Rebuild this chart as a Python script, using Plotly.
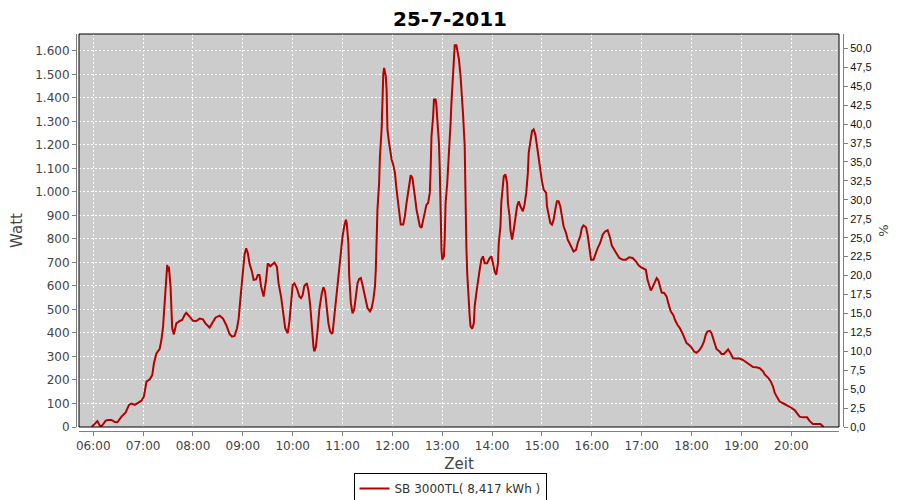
import plotly.graph_objects as go

DAY = "2011-07-25"
SERIES_NAME = "SB 3000TL( 8,417 kWh )"
TITLE = "25-7-2011"

times = [
    "05:58", "06:02", "06:05", "06:07", "06:09", "06:12", "06:15", "06:18", "06:22", "06:26",
    "06:29", "06:34", "06:39", "06:43", "06:46", "06:50", "06:54", "06:58", "07:01", "07:04",
    "07:08", "07:11", "07:13", "07:16", "07:20", "07:22", "07:24", "07:26", "07:28", "07:29",
    "07:30", "07:31", "07:33", "07:34", "07:35", "07:37", "07:40", "07:44", "07:47", "07:50",
    "07:52", "07:56", "08:00", "08:04", "08:08", "08:12", "08:15", "08:20", "08:24", "08:27",
    "08:32", "08:36", "08:40", "08:44", "08:47", "08:50", "08:53", "08:55", "08:57", "08:59",
    "09:01", "09:02", "09:04", "09:06", "09:08", "09:11", "09:13", "09:16", "09:18", "09:20",
    "09:22", "09:24", "09:25", "09:28", "09:30", "09:33", "09:35", "09:38", "09:41", "09:43",
    "09:46", "09:49", "09:51", "09:54", "09:56", "09:58", "10:00", "10:02", "10:05", "10:08",
    "10:10", "10:12", "10:14", "10:17", "10:19", "10:21", "10:23", "10:25", "10:26", "10:28",
    "10:30", "10:32", "10:35", "10:37", "10:39", "10:41", "10:43", "10:45", "10:47", "10:48",
    "10:50", "10:52", "10:54", "10:56", "10:58", "11:00", "11:02", "11:04", "11:05", "11:07",
    "11:08", "11:10", "11:12", "11:14", "11:16", "11:18", "11:20", "11:22", "11:24", "11:26",
    "11:28", "11:30", "11:33", "11:35", "11:37", "11:39", "11:40", "11:41", "11:42", "11:44",
    "11:45", "11:47", "11:48", "11:49", "11:50", "11:52", "11:53", "11:54", "11:56", "11:57",
    "11:59", "12:01", "12:03", "12:05", "12:07", "12:09", "12:10", "12:13", "12:15", "12:17",
    "12:19", "12:21", "12:22", "12:24", "12:25", "12:27", "12:29", "12:31", "12:33", "12:35",
    "12:37", "12:39", "12:41", "12:43", "12:45", "12:46", "12:47", "12:49", "12:50", "12:52",
    "12:53", "12:54", "12:56", "12:57", "12:58", "12:59", "13:00", "13:02", "13:03", "13:04",
    "13:06", "13:07", "13:09", "13:10", "13:11", "13:13", "13:14", "13:15", "13:17", "13:18",
    "13:20", "13:22", "13:24", "13:25", "13:27", "13:28", "13:29", "13:30", "13:31", "13:33",
    "13:34", "13:36", "13:38", "13:39", "13:41", "13:43", "13:45", "13:47", "13:49", "13:51",
    "13:54", "13:57", "13:59", "14:01", "14:03", "14:05", "14:07", "14:08", "14:10", "14:11",
    "14:13", "14:14", "14:16", "14:18", "14:19", "14:21", "14:22", "14:24", "14:26", "14:28",
    "14:30", "14:32", "14:34", "14:37", "14:39", "14:41", "14:43", "14:44", "14:46", "14:48",
    "14:50", "14:52", "14:54", "14:56", "14:58", "15:00", "15:02", "15:05", "15:06", "15:08",
    "15:10", "15:12", "15:14", "15:16", "15:18", "15:20", "15:22", "15:24", "15:26", "15:29",
    "15:31", "15:33", "15:36", "15:38", "15:41", "15:43", "15:46", "15:48", "15:50", "15:53",
    "15:55", "15:57", "15:59", "16:02", "16:04", "16:07", "16:10", "16:13", "16:16", "16:19",
    "16:22", "16:24", "16:27", "16:30", "16:33", "16:37", "16:41", "16:45", "16:49", "16:53",
    "16:56", "16:59", "17:02", "17:05", "17:07", "17:09", "17:11", "17:13", "17:16", "17:18",
    "17:20", "17:22", "17:24", "17:27", "17:30", "17:32", "17:35", "17:38", "17:40", "17:43",
    "17:46", "17:49", "17:52", "17:54", "17:57", "18:00", "18:03", "18:06", "18:09", "18:12",
    "18:15", "18:17", "18:19", "18:22", "18:24", "18:26", "18:28", "18:30", "18:34", "18:36",
    "18:39", "18:42", "18:44", "18:47", "18:50", "18:54", "18:58", "19:02", "19:06", "19:10",
    "19:14", "19:18", "19:22", "19:26", "19:28", "19:32", "19:35", "19:38", "19:40", "19:43",
    "19:46", "19:50", "19:53", "19:56", "20:00", "20:04", "20:07", "20:10", "20:14", "20:19",
    "20:22", "20:26", "20:35", "20:39",
]

watt = [
    0, 15, 25, 12, 0, 12, 27, 30, 30, 21,
    20, 44, 62, 94, 100, 94, 105, 112, 130, 193,
    203, 221, 271, 313, 333, 370, 427, 526, 647, 690,
    661, 682, 597, 470, 420, 394, 441, 451, 455, 477,
    486, 470, 452, 451, 461, 458, 441, 423, 444, 465,
    474, 462, 434, 396, 384, 387, 420, 462, 543, 611,
    682, 732, 760, 739, 696, 661, 626, 628, 647, 647,
    597, 562, 555, 626, 696, 684, 689, 700, 682, 611,
    555, 470, 420, 399, 448, 526, 604, 611, 590, 555,
    548, 562, 600, 612, 580, 520, 420, 342, 322, 342,
    413, 498, 569, 595, 575, 500, 441, 406, 398, 400,
    470, 540, 610, 670, 740, 811, 854, 882, 868, 783,
    641, 527, 484, 499, 555, 612, 630, 634, 605, 570,
    527, 506, 492, 506, 541, 598, 669, 783, 925, 1038,
    1152, 1266, 1443, 1500, 1528, 1493, 1436, 1266, 1209, 1180,
    1138, 1116, 1081, 1010, 953, 896, 861, 861, 896, 953,
    1010, 1052, 1071, 1060, 1024, 982, 925, 882, 854, 847,
    882, 925, 946, 953, 996, 1095, 1237, 1322, 1393, 1393,
    1365, 1308, 1209, 1095, 854, 754, 712, 726, 811, 953,
    1038, 1095, 1195, 1294, 1379, 1479, 1557, 1624, 1624, 1600,
    1565, 1493, 1393, 1330, 1195, 910, 768, 655, 570, 470,
    428, 418, 442, 513, 570, 626, 669, 712, 726, 697,
    697, 719, 726, 697, 662, 648, 697, 783, 854, 953,
    1038, 1067, 1074, 1038, 953, 896, 839, 797, 839, 896,
    939, 960, 939, 918, 946, 996, 1081, 1166, 1209, 1259,
    1266, 1244, 1195, 1138, 1095, 1045, 1010, 996, 939, 896,
    868, 861, 882, 925, 960, 960, 939, 896, 854, 825,
    797, 783, 761, 747, 754, 783, 811, 847, 858, 850,
    815, 768, 712, 712, 733, 761, 783, 818, 832, 837,
    804, 772, 754, 737, 719, 712, 712, 722, 719, 705,
    689, 680, 676, 669, 626, 598, 581, 594, 619, 633,
    624, 598, 572, 570, 555, 527, 491, 477, 456, 435,
    420, 399, 371, 357, 349, 338, 321, 316, 325, 340,
    364, 392, 406, 409, 399, 378, 349, 332, 320, 311,
    311, 325, 330, 313, 292, 291, 291, 285, 275, 267,
    255, 254, 250, 237, 224, 210, 196, 172, 146, 126,
    108, 101, 96, 89, 82, 72, 55, 44, 41, 41,
    26, 13, 13, 0,
]

x_range = [DAY + " 05:42:50", DAY + " 20:57:25"]
watt_range = [0, 1672]
pct_range = [0, 51.9]

x = [DAY + " " + t for t in times]

FONT = "DejaVu Sans"
GRAY = "#808080"
LABEL = "#444444"

fig = go.Figure()
fig.add_trace(go.Scatter(
    x=x, y=watt, mode="lines", name=SERIES_NAME,
    line=dict(color="#b50000", width=2),
))
fig.add_trace(go.Scatter(x=[None], y=[None], yaxis="y2", showlegend=False,
                         hoverinfo="skip", mode="lines"))

# the page body adds an 8px offset; lay out in screen pixels minus that offset
OFF = 8
W, H = 900 - OFF, 500 - OFF
ml = 76 - OFF          # left axis line at screen x=76
mt = 34 - OFF          # plot top at screen y=34
mr = W - (843 - OFF)   # right axis line at screen x=843
mb = H - (431 - OFF)   # bottom axis line at screen y=431
pw = W - ml - mr
ph = H - mt - mb

fig.update_layout(
    width=W, height=H,
    margin=dict(l=ml, r=mr, t=mt, b=mb, pad=0, autoexpand=False),
    paper_bgcolor="white",
    plot_bgcolor="#cccccc",
    separators=",.",
    font=dict(family=FONT, size=12, color=LABEL),
    title=dict(text=TITLE, x=(450 - OFF) / W, xanchor="center",
               y=1 - 4 / H, yanchor="top", pad=dict(t=0, b=0), automargin=False,
               font=dict(family=FONT, size=20, color="black", weight="bold")),
    xaxis=dict(
        type="date", range=x_range, domain=[3 / pw, (pw - 4) / pw],
        anchor="free", position=0, automargin=False,
        tickformat="%H:%M", dtick=3600000, tick0=DAY + " 06:00",
        showgrid=True, gridcolor="white", griddash="2px,2px", gridwidth=1,
        showline=True, linecolor=GRAY, linewidth=1,
        ticks="outside", ticklen=4, tickcolor=GRAY,
        tickfont=dict(family=FONT, size=12, color=LABEL),
        title=dict(text="Zeit", font=dict(family=FONT, size=15, color=LABEL), standoff=6),
        zeroline=False,
    ),
    yaxis=dict(
        range=watt_range, domain=[4 / ph, 1], anchor="free", position=0, automargin=False,
        dtick=100, tick0=0, tickformat=",d",
        showgrid=True, gridcolor="white", griddash="2px,2px", gridwidth=1,
        showline=True, linecolor=GRAY, linewidth=1,
        ticks="outside", ticklen=4, tickcolor=GRAY,
        tickfont=dict(family=FONT, size=12, color=LABEL),
        title=dict(text="Watt", font=dict(family=FONT, size=15, color=LABEL), standoff=8),
        zeroline=False,
    ),
    yaxis2=dict(
        range=pct_range, overlaying="y", side="right", anchor="free", position=1,
        automargin=False,
        dtick=2.5, tick0=0, tickformat=".1f",
        showgrid=False, zeroline=False,
        showline=True, linecolor=GRAY, linewidth=1,
        ticks="outside", ticklen=4, tickcolor=GRAY,
        tickfont=dict(family="Liberation Sans", size=11, color="#111111"),
        title=dict(text="%", font=dict(family=FONT, size=13, color=LABEL), standoff=8),
    ),
    showlegend=True,
    legend=dict(
        orientation="h", x=(450 - 76) / pw, xanchor="center",
        y=-(473 - 431) / ph, yanchor="top",
        bgcolor="white", bordercolor="black", borderwidth=1,
        font=dict(family=FONT, size=12, color="#333333"),
        itemwidth=30,
    ),
    shapes=[dict(type="rect", xref="x domain", yref="y domain", x0=0, x1=1, y0=0, y1=1,
                 line=dict(color="black", width=1), fillcolor="rgba(0,0,0,0)", layer="above")],
)

fig.write_html("out.html")
